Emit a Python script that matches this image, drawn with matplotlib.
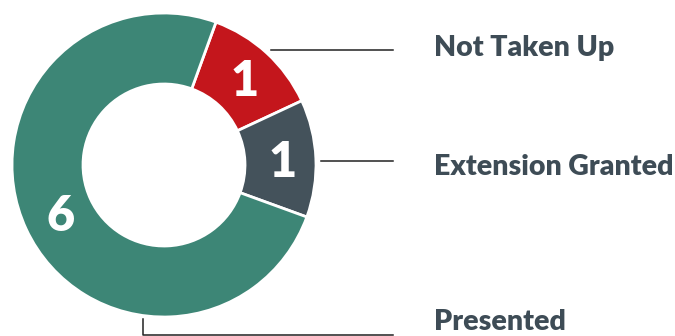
import numpy as np
import matplotlib.pyplot as plt

labels = ["Not Taken Up", "Extension Granted", "Presented"]
values = [1, 1, 6]
colors = ["#c4161c", "#44525b", "#3d8676"]

W, H = 675, 336
cx, cy = 164, H - 165
R = 152
ring = 71

fig = plt.figure(figsize=(W / 100, H / 100), dpi=100)
ax = fig.add_axes([0, 0, 1, 1])

wedges, _ = ax.pie(values, colors=colors, startangle=70, counterclock=False,
                   radius=R, center=(cx, cy),
                   wedgeprops=dict(width=ring, edgecolor="white", linewidth=2))
ax.set_xlim(0, W)
ax.set_ylim(0, H)
ax.set_aspect("equal")
ax.axis("off")

# value labels inside the ring
for w, v in zip(wedges, values):
    mid = np.deg2rad((w.theta1 + w.theta2) / 2)
    r = R - ring / 2
    x = cx + r * np.cos(mid)
    y = cy + r * np.sin(mid)
    ax.text(x + 2, y - 17, str(v), color="white", fontsize=35, fontweight="heavy",
            family="Lato", ha="center", va="baseline")

# leader lines and category labels
line_col = "#222222"
txt_col = "#3e4c56"
ax.plot([271, 393], [H - 50, H - 50], color=line_col, lw=1.1)
ax.plot([321, 393], [H - 161, H - 161], color=line_col, lw=1.1)
ax.plot([143, 143, 393], [H - 319, H - 335, H - 335], color=line_col, lw=1.1)

label_y = [56, 175, 330]
for lab, ly in zip(labels, label_y):
    ax.text(434, H - ly, lab, color=txt_col, fontsize=20.5, fontweight="heavy",
            family="Lato", ha="left", va="baseline")

fig.savefig("out.png", dpi=100)
